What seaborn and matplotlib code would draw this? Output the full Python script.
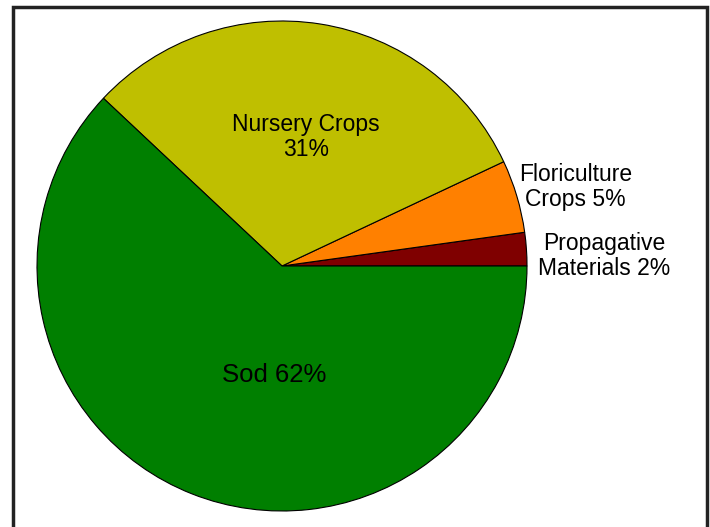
import matplotlib
matplotlib.use("Agg")
import matplotlib.pyplot as plt
import seaborn as sns
from matplotlib.patches import Rectangle

sns.set_style("white")
plt.rcParams['font.family'] = ['Liberation Sans', 'DejaVu Sans']

categories = ["Propagative Materials", "Floriculture Crops", "Nursery Crops", "Sod"]
values = [2.2, 4.8, 31, 62]
labels = ["Propagative\nMaterials 2%", "Floriculture\nCrops 5%", "Nursery Crops\n31%", "Sod 62%"]
colors = ["#7F0000", "#FF8000", "#BFBF00", "#007F00"]

W, H = 710, 527
fig = plt.figure(figsize=(W / 100, H / 100), dpi=100)
fig.patch.set_facecolor("white")

cx, cy, r = 282, 266, 245
ax = fig.add_axes([(cx - r) / W, (H - cy - r) / H, 2 * r / W, 2 * r / H])
wedges, _ = ax.pie(values, colors=colors, startangle=0, counterclock=True,
                   radius=1.0, wedgeprops=dict(edgecolor="black", linewidth=0.8))
ax.set_xlim(-1, 1)
ax.set_ylim(-1, 1)
ax.set_aspect("equal")
ax.axis("off")

# label placements (data coords, centre of text block) and font size
label_pos = [(1.314, 0.041, 16.5), (1.198, 0.322, 16.5),
             (0.098, 0.527, 16.5), (-0.033, -0.445, 18.5)]
for lab, (x, y, fs) in zip(labels, label_pos):
    ax.text(x, y, lab, ha="center", va="center", fontsize=fs, color="black",
            multialignment="center", linespacing=1.15, clip_on=False)

# figure frame
fig.patches.append(Rectangle((13 / W, -0.05), (707 - 13) / W, (H - 7) / H + 0.05,
                             transform=fig.transFigure, fill=False,
                             edgecolor="#222222", linewidth=2.5, zorder=10))

fig.savefig("out.png", dpi=100)
